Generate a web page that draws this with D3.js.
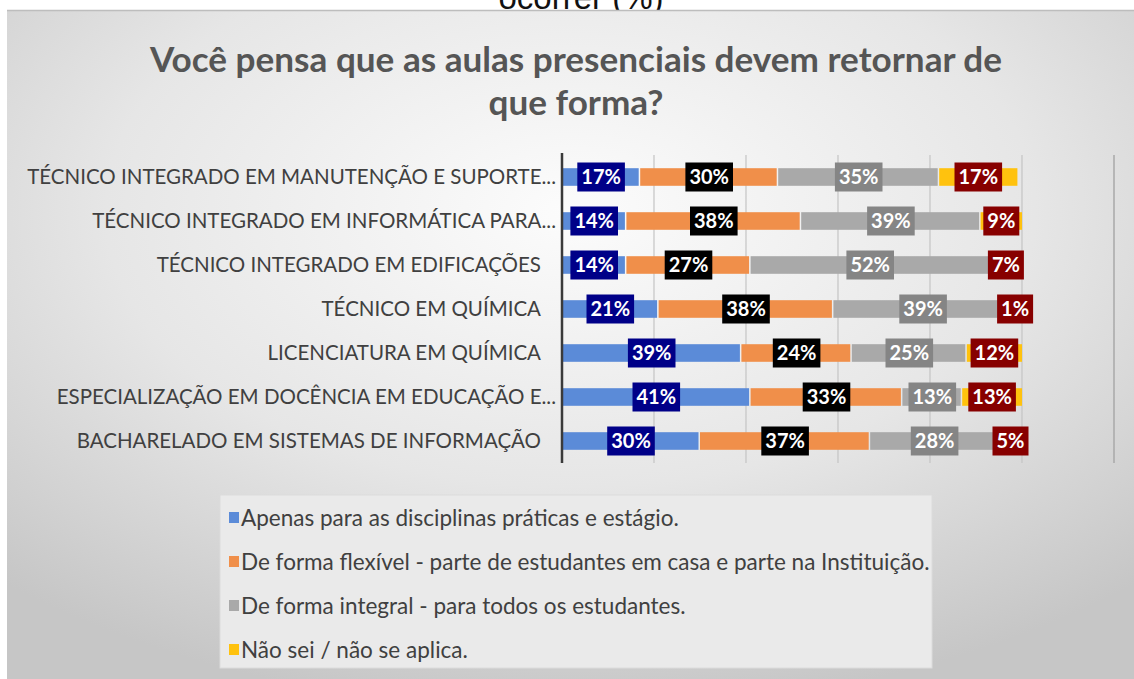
<!DOCTYPE html>
<html><head><meta charset="utf-8">
<script src="https://cdn.jsdelivr.net/npm/d3@7"></script>
<style>html,body{margin:0;padding:0;background:#fff;overflow:hidden}</style>
</head><body>
<svg id="chart" width="1134" height="679"></svg>
<script>
const categories = [
  "TÉCNICO INTEGRADO EM MANUTENÇÃO E SUPORTE...",
  "TÉCNICO INTEGRADO EM INFORMÁTICA PARA...",
  "TÉCNICO INTEGRADO EM EDIFICAÇÕES",
  "TÉCNICO EM QUÍMICA",
  "LICENCIATURA EM QUÍMICA",
  "ESPECIALIZAÇÃO EM DOCÊNCIA EM EDUCAÇÃO E...",
  "BACHARELADO EM SISTEMAS DE INFORMAÇÃO"
];
const seriesNames = [
  "Apenas para as disciplinas práticas e estágio.",
  "De forma flexível - parte de estudantes em casa e parte na Instituição.",
  "De forma integral - para todos os estudantes.",
  "Não sei / não se aplica."
];
const apenas   = [17, 14, 14, 21, 39, 41, 30];
const flexivel = [30, 38, 27, 38, 24, 33, 37];
const integral = [35, 39, 52, 39, 25, 13, 28];
const naoSei   = [17,  9,  7,  1, 12, 13,  5];
const xTicks = [0, 20, 40, 60, 80, 100, 120];
const titleLines = ["Você pensa que as aulas presenciais devem retornar de", "que forma?"];

const barColors = ["#5b8bd8", "#f08f4a", "#a9a9a9", "#ffc20e"];
const boxColors = ["#000088", "#000000", "#858585", "#870000"];
const FONT = "Lato, 'Open Sans', sans-serif";

const svg = d3.select("#chart");
const defs = svg.append("defs");
const grad = defs.append("radialGradient").attr("id","bg")
  .attr("cx","50%").attr("cy","30%").attr("r","75%");
grad.append("stop").attr("offset","0%").attr("stop-color","#fcfcfc");
grad.append("stop").attr("offset","55%").attr("stop-color","#e6e6e6");
grad.append("stop").attr("offset","100%").attr("stop-color","#c6c6c6");

function fitWidth(node, target){
  const fs = parseFloat(node.getAttribute("font-size"));
  const w = node.getComputedTextLength();
  node.setAttribute("font-size", (fs*target/w).toFixed(2));
}

// text above the chart, cut at the top edge as in the reference
svg.append("text").attr("x",581).attr("y",9).attr("text-anchor","middle")
  .attr("font-family","Liberation Sans, Arial, sans-serif").attr("font-size",33)
  .attr("fill","#111").text("ocorrer (%)");

svg.append("rect").attr("x",7).attr("y",10).attr("width",1127).attr("height",669)
  .attr("fill","url(#bg)");
svg.append("line").attr("x1",7).attr("x2",1134).attr("y1",10.5).attr("y2",10.5)
  .attr("stroke","#bdbdbd").attr("stroke-width",1.5);

// title
const tt = svg.append("g").selectAll("text").data(titleLines).join("text")
  .attr("x",576).attr("y",(d,i)=>72+i*43).attr("text-anchor","middle")
  .attr("font-family",FONT).attr("font-weight","bold")
  .attr("font-size",30).attr("fill","#555").text(d=>d);
fitWidth(tt.nodes()[0], 852);
tt.nodes()[1].setAttribute("font-size", tt.nodes()[0].getAttribute("font-size"));

const x = d3.scaleLinear().domain([0,120]).range([562,1114]);
const y = d3.scaleBand().domain(categories).range([155,463]).paddingInner(0.6).paddingOuter(0.3);

// gridlines
svg.append("g").selectAll("line").data(xTicks.slice(1)).join("line")
  .attr("x1",d=>x(d)).attr("x2",d=>x(d)).attr("y1",155).attr("y2",463)
  .attr("stroke",(d)=>d===120?"#a8a8a8":"#c4c4c4").attr("stroke-width",(d)=>d===120?1.5:1.2);

const seriesVals = [apenas, flexivel, integral, naoSei];
const rows = categories.map((c,i)=>{
  const o = {cat:c}; seriesNames.forEach((s,j)=>o["s"+j]=seriesVals[j][i]); return o;
});
const stack = d3.stack().keys(["s0","s1","s2","s3"])(rows);

const gBars = svg.append("g");
stack.forEach((layer,j)=>{
  gBars.append("g").selectAll("rect").data(layer).join("rect")
    .attr("x",d=>x(d[0])).attr("width",d=>Math.max(0,x(d[1])-x(d[0])-(j<3?1.5:0)))
    .attr("y",d=>y(d.data.cat)).attr("height",y.bandwidth())
    .attr("fill",barColors[j]);
});

// axis line
svg.append("line").attr("x1",562).attr("x2",562).attr("y1",153).attr("y2",463)
  .attr("stroke","#3a3a3a").attr("stroke-width",2.5);

// category labels
const cl = svg.append("g").selectAll("text").data(categories).join("text")
  .attr("x",d=>d.endsWith("...")?556:541)
  .attr("y",d=>y(d)+y.bandwidth()/2).attr("dy","0.36em").attr("text-anchor","end")
  .attr("font-family",FONT).attr("font-size",17.5)
  .attr("fill","#404040").text(d=>d);
fitWidth(cl.nodes()[0], 529);
cl.attr("font-size", cl.nodes()[0].getAttribute("font-size"));

// data labels
const gLab = svg.append("g");
stack.forEach((layer,j)=>{
  const g = gLab.append("g").selectAll("g").data(layer).join("g")
    .attr("transform",d=>`translate(${x((d[0]+d[1])/2)},${y(d.data.cat)+y.bandwidth()/2})`);
  const t = g.append("text").attr("text-anchor","middle").attr("dy","0.36em")
    .attr("font-family",FONT).attr("font-weight","bold")
    .attr("font-size",20).attr("fill","#fff").text(d=>(d[1]-d[0])+"%");
  t.each(function(){
    const w = this.getComputedTextLength();
    d3.select(this.parentNode).insert("rect","text")
      .attr("x",-w/2-4).attr("y",-14.5).attr("width",w+8).attr("height",29)
      .attr("fill",boxColors[j]);
  });
});

// legend
const lg = svg.append("g");
lg.append("rect").attr("x",220).attr("y",495).attr("width",712).attr("height",173)
  .attr("fill","#eaeaea").attr("stroke","#dcdcdc");
const li = lg.selectAll("g").data(seriesNames).join("g")
  .attr("transform",(d,i)=>`translate(229,${518+i*44})`);
li.append("rect").attr("x",0).attr("y",-6).attr("width",10).attr("height",11)
  .attr("fill",(d,i)=>barColors[i]);
const lt = li.append("text").attr("x",12).attr("dy","0.36em")
  .attr("font-family",FONT).attr("font-size",17.5)
  .attr("fill","#404040").text(d=>d);
fitWidth(lt.nodes()[1], 689);
lt.attr("font-size", lt.nodes()[1].getAttribute("font-size"));
</script>
</body></html>
